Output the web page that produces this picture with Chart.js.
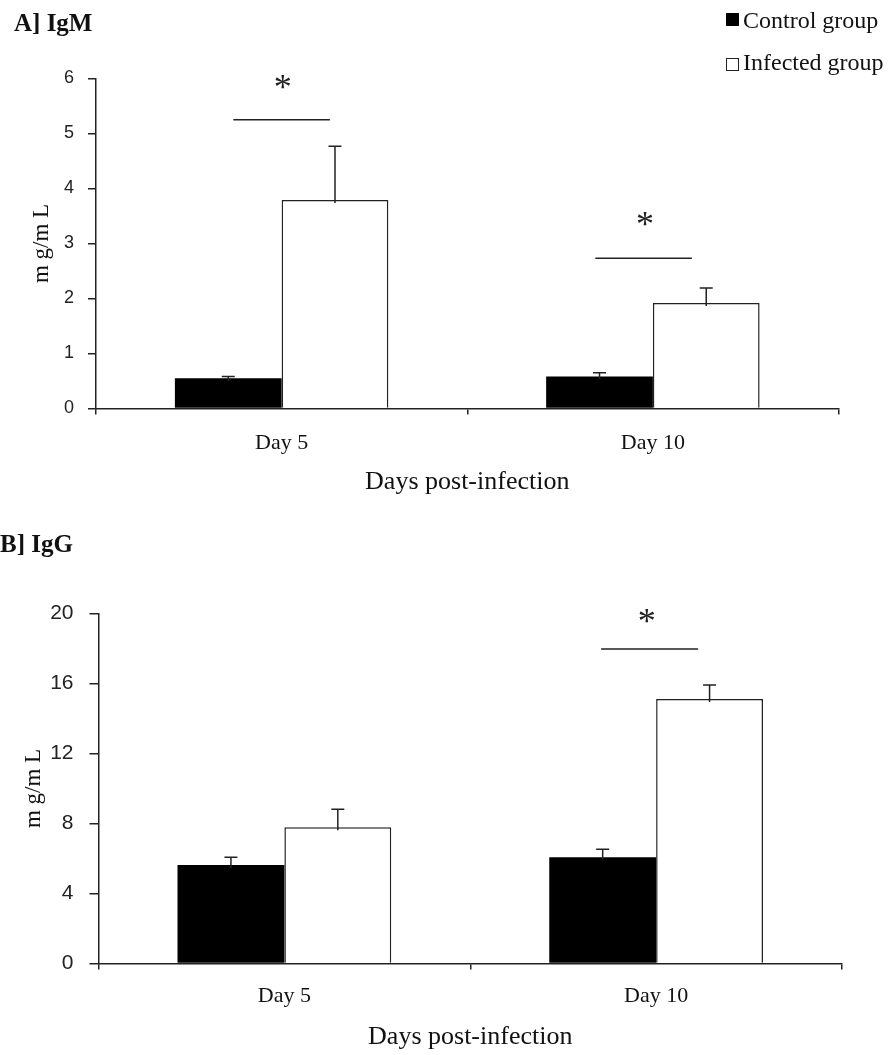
<!DOCTYPE html>
<html><head><meta charset="utf-8">
<script src="https://cdn.jsdelivr.net/npm/chart.js@4.4.1/dist/chart.umd.min.js"></script>
<style>
html,body{margin:0;padding:0;background:#fff;width:889px;height:1055px;overflow:hidden;position:relative}
canvas{position:absolute;left:0}
.t{position:absolute;font-family:'Liberation Serif',serif;color:#111;white-space:nowrap}
.ttl{font-size:25px;line-height:25px;font-weight:bold}
.lg{font-size:24px;line-height:22px}
.box{position:absolute;width:13px;height:13px;box-sizing:border-box}
</style></head>
<body>
<canvas id="cA" width="889" height="515" style="top:0"></canvas>
<canvas id="cB" width="889" height="535" style="top:520px"></canvas>
<div class="t ttl" style="left:14px;top:10px">A] IgM</div>
<div class="t ttl" style="left:0px;top:531px">B] IgG</div>
<div class="box" style="left:726px;top:13px;background:#000"></div>
<div class="t lg" style="left:743px;top:9px">Control group</div>
<div class="box" style="left:726px;top:58px;background:#fff;border:1px solid #222"></div>
<div class="t lg" style="left:743px;top:51px">Infected group</div>
<script>
const categories = ['Day 5', 'Day 10'];
const seriesNames = ['Control group', 'Infected group'];

// A] IgM (mg/mL)
const igmControl = [0.55, 0.58];
const igmControlErr = [0.03, 0.07];
const igmInfected = [3.79, 1.92];
const igmInfectedErr = [0.98, 0.27];
const igmTicks = [0, 1, 2, 3, 4, 5, 6];
// significance markers (category index units / value units)
const igmSigFrom = [-0.13, 0.845];
const igmSigTo = [0.13, 1.105];
const igmSigLevel = [5.25, 2.73];
const igmStarAt = [0.003, 0.979];
const igmStarLevel = [5.92, 3.44];

// B] IgG (mg/mL)
const iggControl = [5.63, 6.07];
const iggControlErr = [0.44, 0.46];
const iggInfected = [7.78, 15.11];
const iggInfectedErr = [1.03, 0.80];
const iggTicks = [0, 4, 8, 12, 16, 20];
const iggSigFrom = [0.852];
const iggSigTo = [1.113];
const iggSigLevel = [17.97];
const iggStarAt = [0.975];
const iggStarLevel = [19.82];

const INK = '#222';

const overlay = {
  id: 'overlay',
  afterDatasetsDraw(chart, args, o) {
    const {ctx} = chart;
    const x = chart.scales.x, y = chart.scales.y;
    ctx.save();
    ctx.strokeStyle = INK;
    ctx.lineWidth = 1.5;
    o.errors.forEach((errs, di) => {
      const meta = chart.getDatasetMeta(di);
      meta.data.forEach((bar, i) => {
        const v = chart.data.datasets[di].data[i];
        const yb = y.getPixelForValue(v);
        const yt = y.getPixelForValue(v + errs[i]);
        ctx.beginPath();
        ctx.moveTo(bar.x, yb + 3);
        ctx.lineTo(bar.x, yt);
        ctx.moveTo(bar.x - 6.5, yt);
        ctx.lineTo(bar.x + 6.5, yt);
        ctx.stroke();
      });
    });
    o.sigFrom.forEach((f, i) => {
      const py = y.getPixelForValue(o.sigLevel[i]);
      ctx.beginPath();
      ctx.moveTo(x.getPixelForValue(f), py);
      ctx.lineTo(x.getPixelForValue(o.sigTo[i]), py);
      ctx.stroke();
    });
    const fs = 36;
    ctx.fillStyle = INK;
    ctx.font = fs + "px 'Liberation Serif'";
    ctx.textAlign = 'center';
    ctx.textBaseline = 'alphabetic';
    o.starAt.forEach((s, i) => {
      ctx.fillText('*', x.getPixelForValue(s), y.getPixelForValue(o.starLevel[i]) + 0.46 * fs);
    });
    ctx.restore();
  }
};

function makeChart(id, ctrl, inf, ctrlErr, infErr, ticks, sig, geo) {
  return new Chart(document.getElementById(id), {
    type: 'bar',
    data: {
      labels: categories,
      datasets: [
        {label: seriesNames[0], data: ctrl, backgroundColor: '#000', borderColor: '#000', borderWidth: 0},
        {label: seriesNames[1], data: inf, backgroundColor: '#fff', borderColor: INK, borderWidth: 1.5}
      ]
    },
    options: {
      responsive: false,
      animation: false,
      events: [],
      layout: {padding: {left: 0, right: geo.right, top: geo.top, bottom: 0}},
      datasets: {bar: {categoryPercentage: 0.575, barPercentage: 1}},
      plugins: {
        legend: {display: false},
        tooltip: {enabled: false},
        overlay: {errors: [ctrlErr, infErr], ...sig}
      },
      scales: {
        x: {
          grid: {display: true, drawOnChartArea: false, drawTicks: true, tickLength: 6, color: INK, lineWidth: 1.5},
          border: {display: true, color: INK, width: 1.5},
          ticks: {color: '#111', padding: geo.xPad, font: {family: "'Liberation Serif'", size: 22}},
          title: {display: true, text: 'Days post-infection', color: '#111', padding: {top: 0, bottom: geo.xTitlePad}, font: {family: "'Liberation Serif'", size: 26}},
          afterFit: s => { s.height = geo.xH; }
        },
        y: {
          min: ticks[0], max: ticks[ticks.length - 1],
          afterBuildTicks: s => { s.ticks = ticks.map(v => ({value: v})); },
          grid: {display: true, drawOnChartArea: false, drawTicks: true, tickLength: geo.yTick, color: INK, lineWidth: 1.5},
          border: {display: true, color: INK, width: 1.5},
          ticks: {color: '#222', padding: geo.yPad, font: {family: "'Liberation Sans'", size: geo.yFont}},
          title: {display: true, text: 'm g/m L', color: '#111', padding: {top: geo.yTitlePad, bottom: 0}, font: {family: "'Liberation Serif'", size: 23}},
          afterFit: s => { s.width = geo.yW; }
        }
      }
    },
    plugins: [overlay]
  });
}

makeChart('cA', igmControl, igmInfected, igmControlErr, igmInfectedErr, igmTicks,
  {sigFrom: igmSigFrom, sigTo: igmSigTo, sigLevel: igmSigLevel, starAt: igmStarAt, starLevel: igmStarLevel},
  {right: 50.5, top: 78.5, xH: 106.5, xPad: 15.3, xTitlePad: 17.4, yW: 96, yTitlePad: 28, yFont: 18, yPad: 14, yTick: 8});

makeChart('cB', iggControl, iggInfected, iggControlErr, iggInfectedErr, iggTicks,
  {sigFrom: iggSigFrom, sigTo: iggSigTo, sigLevel: iggSigLevel, starAt: iggStarAt, starLevel: iggStarLevel},
  {right: 47, top: 93.5, xH: 91.5, xPad: 13.3, xTitlePad: 2.4, yW: 98.5, yTitlePad: 20, yFont: 21, yPad: 16, yTick: 9});
</script>
</body></html>
